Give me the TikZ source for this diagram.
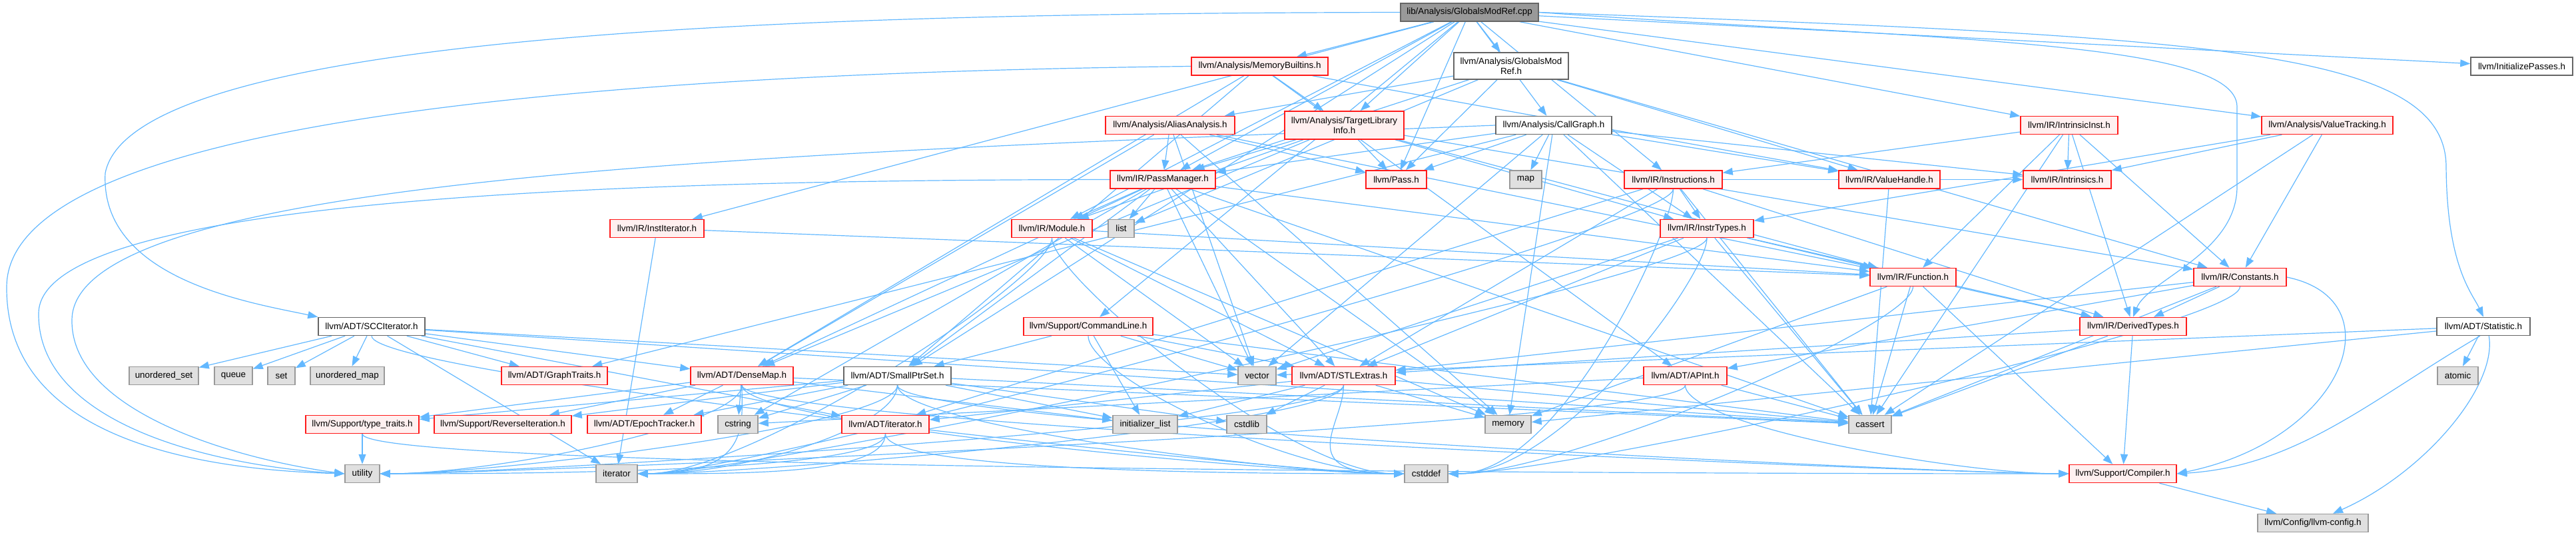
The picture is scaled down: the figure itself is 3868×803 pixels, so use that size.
\documentclass[tikz,border=0pt]{standalone}
\usepackage{fontspec}
\setmainfont{Liberation Sans}
\usetikzlibrary{arrows.meta}
\definecolor{edgeblue}{HTML}{63B8FF}
\definecolor{redborder}{HTML}{FF1A1A}
\definecolor{redfill}{HTML}{FFF0F0}
\definecolor{grayfill}{HTML}{E0E0E0}
\definecolor{grayborder}{HTML}{999999}
\definecolor{darkborder}{HTML}{666666}
\definecolor{rootfill}{HTML}{999999}
\pgfdeclarelayer{bg}
\pgfsetlayers{bg,main}
\newcommand\deps[2]{\foreach \t in {#2} {\draw[dep] (#1) -- (\t);}}
\newcommand\depE[2]{\foreach \t in {#2} {\draw[dep] (#1.south) .. controls +(0,60) and +(170,0) .. (\t.east);}}
\newcommand\depW[2]{\foreach \t in {#2} {\draw[dep] (#1.south) .. controls +(0,60) and +(-170,0) .. (\t.west);}}
\begin{document}
\begin{tikzpicture}[x=1pt,y=-1pt,
  box/.style={rectangle, draw, line width=1.5pt, inner sep=0pt, minimum height=27pt, font=\fontsize{13.4}{15}\selectfont, align=center},
  rednode/.style={box, draw=redborder, fill=redfill},
  graynode/.style={box, draw=grayborder, fill=grayfill},
  whitenode/.style={box, draw=darkborder, fill=white},
  rootnode/.style={box, draw=darkborder, fill=rootfill},
  dep/.style={draw=edgeblue, line width=1.2pt, -{Triangle[length=15pt,width=11pt]}}
]
\useasboundingbox (0,0) rectangle (3868,803);
% rank 0
\node[rootnode, minimum width=207pt] (cpp) at (2206.5,18.5) {lib/Analysis/GlobalsModRef.cpp};
% rank 1
\node[rednode, minimum width=205pt] (mb) at (1891.5,99.5) {llvm/Analysis/MemoryBuiltins.h};
\node[whitenode, minimum width=172pt, minimum height=40pt] (gmrh) at (2269,99) {llvm/Analysis/GlobalsMod\\Ref.h};
\node[whitenode, minimum width=153pt] (initp) at (3786.5,99.5) {llvm/InitializePasses.h};
% rank 2
\node[rednode, minimum width=194pt] (aa) at (1757,188) {llvm/Analysis/AliasAnalysis.h};
\node[rednode, minimum width=179pt, minimum height=42pt] (tli) at (2018.5,188) {llvm/Analysis/TargetLibrary\\Info.h};
\node[whitenode, minimum width=174pt] (cg) at (2333,188) {llvm/Analysis/CallGraph.h};
\node[rednode, minimum width=146pt] (iinst) at (3107,188) {llvm/IR/IntrinsicInst.h};
\node[rednode, minimum width=197pt] (vt) at (3494.5,188) {llvm/Analysis/ValueTracking.h};
% rank 3
\node[rednode, minimum width=158pt] (pm) at (1746,269.5) {llvm/IR/PassManager.h};
\node[rednode, minimum width=91pt] (pass) at (2096.5,269.5) {llvm/Pass.h};
\node[graynode, minimum width=48pt] (map) at (2291,269.5) {map};
\node[rednode, minimum width=147pt] (instr) at (2512.5,269.5) {llvm/IR/Instructions.h};
\node[rednode, minimum width=152pt] (vh) at (2837,269.5) {llvm/IR/ValueHandle.h};
\node[rednode, minimum width=132pt] (intr) at (3104,269.5) {llvm/IR/Intrinsics.h};
% rank 4
\node[rednode, minimum width=141pt] (ii) at (986.5,343) {llvm/IR/InstIterator.h};
\node[rednode, minimum width=121pt] (mod) at (1579.5,343) {llvm/IR/Module.h};
\node[graynode, minimum width=39pt] (list) at (1683.5,343) {list};
\node[rednode, minimum width=140pt] (instrt) at (2563,343) {llvm/IR/InstrTypes.h};
% rank 5
\node[rednode, minimum width=129pt] (func) at (2872.5,416) {llvm/IR/Function.h};
\node[rednode, minimum width=139pt] (consts) at (3363.5,416) {llvm/IR/Constants.h};
% rank 6
\node[whitenode, minimum width=160pt] (scc) at (558,490) {llvm/ADT/SCCIterator.h};
\node[rednode, minimum width=194pt] (cl) at (1634,490) {llvm/Support/CommandLine.h};
\node[rednode, minimum width=160pt] (dt) at (3203,490) {llvm/IR/DerivedTypes.h};
\node[whitenode, minimum width=140pt] (stat) at (3729,490) {llvm/ADT/Statistic.h};
% rank 7
\node[graynode, minimum width=104pt] (uset) at (246,564) {unordered\_set};
\node[graynode, minimum width=57pt] (queue) at (350.5,564) {queue};
\node[graynode, minimum width=41pt] (set) at (422.5,564) {set};
\node[graynode, minimum width=111pt] (umap) at (521.5,564) {unordered\_map};
\node[rednode, minimum width=159pt] (gt) at (832.5,564) {llvm/ADT/GraphTraits.h};
\node[rednode, minimum width=154pt] (dmap) at (1114,564) {llvm/ADT/DenseMap.h};
\node[whitenode, minimum width=161pt] (sps) at (1347.5,564) {llvm/ADT/SmallPtrSet.h};
\node[graynode, minimum width=57pt] (vector) at (1887.5,564) {vector};
\node[rednode, minimum width=155pt] (stl) at (2017.5,564) {llvm/ADT/STLExtras.h};
\node[rednode, minimum width=125pt] (apint) at (2530.5,564) {llvm/ADT/APInt.h};
\node[graynode, minimum width=61pt] (atomic) at (3690.5,564) {atomic};
% rank 8
\node[rednode, minimum width=170pt] (tt) at (544,637) {llvm/Support/type\_traits.h};
\node[rednode, minimum width=206pt] (rev) at (755,637) {llvm/Support/ReverseIteration.h};
\node[rednode, minimum width=171pt] (epoch) at (967.5,637) {llvm/ADT/EpochTracker.h};
\node[graynode, minimum width=60pt] (cstring) at (1108,637) {cstring};
\node[rednode, minimum width=131pt] (itr) at (1329.5,637) {llvm/ADT/iterator.h};
\node[graynode, minimum width=97pt] (initl) at (1719.5,637) {initializer\_list};
\node[graynode, minimum width=60pt] (cstdlib) at (1872,637) {cstdlib};
\node[graynode, minimum width=69pt] (memory) at (2264.5,637) {memory};
\node[graynode, minimum width=64pt] (cassert) at (2808,637) {cassert};
% rank 9
\node[graynode, minimum width=52pt] (util) at (544,711) {utility};
\node[graynode, minimum width=62pt] (iter) at (926,711) {iterator};
\node[graynode, minimum width=65pt] (cstddef) at (2141.5,711) {cstddef};
\node[rednode, minimum width=161pt] (comp) at (3187.5,711) {llvm/Support/Compiler.h};
% rank 10
\node[graynode, minimum width=166pt] (cfg) at (3473,785) {llvm/Config/llvm-config.h};

\begin{pgfonlayer}{bg}
\deps{cpp}{gmrh,sps,cg,mb,tli,vt,ii,instr,iinst,mod,pm,initp,pass,cl}
\draw[dep] (cpp.west) .. controls (1300,20) and (200,40) .. (158,260) .. controls (150,420) and (380,455) .. (scc.north west);
\draw[dep] (cpp.east) .. controls (3300,55) and (3672,70) .. (3673,250) .. controls (3674,400) and (3712,440) .. (stat.north);
\draw[dep] (cpp.east) .. controls (2900,60) and (3358,60) .. (3359,160) -- (3359,280) .. controls (3359,380) and (3225,420) .. (dt.north);
\deps{mb}{apint,dmap,sps,tli,vh}
\draw[dep] (mb.west) .. controls (900,110) and (12,180) .. (10,430) .. controls (8,660) and (300,705) .. (util.west);
\deps{gmrh}{aa,pm,vh,pass,list,consts}
\deps{aa}{dmap,func,pm,pass,memory,vector}
\deps{tli}{dmap,func,instrt,mod,pm,pass,consts}
\deps{cg}{instrt,intr,pm,vh,pass,cassert,map,memory,vector,gt}
\draw[dep] (cg.west) .. controls (1200,230) and (110,260) .. (108,480) .. controls (106,620) and (360,690) .. (util.west);
\deps{iinst}{consts,dt,func,instr,intr,cassert}
\deps{vt}{consts,instrt,intr,cassert}
\deps{pm}{dmap,stl,sps,func,mod,cassert,cstring,list,memory,vector}
\draw[dep] (pm.west) .. controls (900,270) and (60,300) .. (58,470) .. controls (56,640) and (330,700) .. (util.west);
\deps{instr}{stl,itr,dt,instrt,intr,cassert}
\depE{instr}{cstddef,iter}
\deps{vh}{cassert}
\deps{ii}{func,iter}
\deps{mod}{stl,func,memory,vector}
\depE{mod}{iter}
\depW{mod}{cstddef}
\deps{instrt}{stl,dt,func,cassert,vector}
\depE{instrt}{cstddef,iter}
\deps{func}{dt,comp,cassert,memory}
\depE{func}{cstddef}
\deps{consts}{apint,stl,dt,cassert}
\depE{consts}{cstddef}
\draw[dep] (consts.east) .. controls (3600,450) and (3520,660) .. (comp.east);
\deps{scc}{dmap,gt,itr,cassert,iter,queue,set,umap,uset,vector}
\depW{scc}{cstddef}
\deps{cl}{stl,sps,cassert,initl,vector}
\depW{cl}{cstddef}
\deps{dt}{stl,comp,cassert}
\deps{stat}{atomic,memory,vector}
\draw[dep] (stat.300) .. controls (3750,580) and (3640,710) .. ([xshift=30pt]cfg.north);
\draw[dep] (stat.250) .. controls (3560,600) and (3450,700) .. (comp.east);
\deps{dmap}{epoch,rev,tt,cassert,cstring,initl}
\depE{dmap}{iter,util}
\depW{dmap}{cstddef,comp}
\deps{sps}{epoch,rev,tt,cassert,cstdlib,cstring,initl}
\depE{sps}{iter,util}
\depW{sps}{cstddef,comp}
\deps{stl}{itr,cassert,cstdlib,initl,memory}
\depE{stl}{iter,util}
\depW{stl}{cstddef}
\deps{apint}{cassert,cstring}
\depE{apint}{util}
\depW{apint}{comp}
\deps{tt}{util}
\depW{tt}{comp}
\depE{itr}{iter,util}
\depW{itr}{cstddef}
\deps{comp}{cfg}
\end{pgfonlayer}
\end{tikzpicture}
\end{document}
